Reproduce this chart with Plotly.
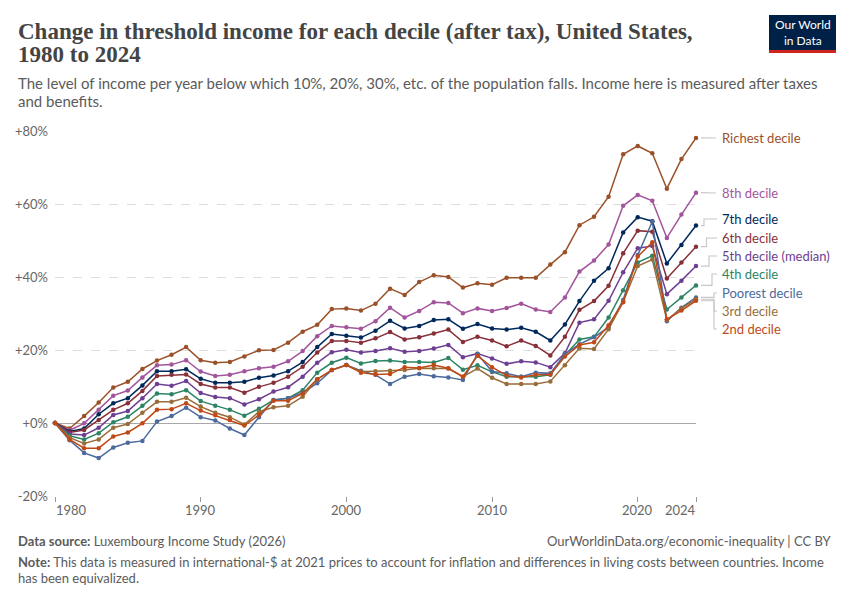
import plotly.graph_objects as go

years = list(range(1980, 2025))

richest = [0, -1.5, 1.9, 5.6, 9.7, 11.3, 14.8, 17.1, 18.7, 20.8,
           17.2, 16.5, 16.7, 18.2, 19.9, 20.0, 22.0, 25.0, 26.9, 31.2,
           31.4, 30.8, 32.7, 36.8, 35.1, 38.6, 40.5, 40.0, 37.1, 38.3,
           37.9, 39.8, 39.8, 39.8, 43.4, 46.8, 54.2, 56.5, 62.0, 73.6,
           75.9, 73.9, 64.2, 72.3, 78.1]
d8 = [0, -2.0, -0.1, 3.6, 7.5, 8.9, 12.5, 15.8, 16.0, 17.2,
      14.1, 12.9, 13.2, 14.2, 15.0, 15.4, 16.9, 19.7, 23.8, 26.6,
      26.2, 25.8, 27.9, 31.6, 28.9, 30.7, 33.1, 32.9, 30.1, 31.4,
      30.7, 31.5, 32.7, 31.1, 30.4, 34.4, 41.5, 44.5, 48.9, 59.5,
      62.5, 60.9, 50.7, 57.1, 63.1]
d7 = [0, -2.3, -1.5, 2.4, 5.4, 6.8, 10.3, 14.2, 14.2, 14.7,
      12.1, 11.0, 11.0, 11.3, 12.4, 13.0, 14.2, 16.7, 20.8, 24.4,
      23.9, 23.4, 25.3, 28.0, 25.9, 26.6, 28.2, 28.4, 25.8, 27.1,
      25.9, 25.6, 26.1, 25.0, 22.6, 27.0, 33.4, 39.0, 42.4, 52.2,
      56.4, 55.3, 43.7, 48.8, 54.1]
d6 = [0, -2.6, -1.9, 0.8, 3.6, 5.4, 8.8, 12.9, 13.2, 13.3,
      10.7, 9.7, 9.7, 8.3, 9.9, 11.0, 12.7, 15.4, 19.3, 22.5,
      22.5, 22.0, 23.2, 24.9, 22.9, 23.5, 24.5, 25.6, 22.2, 23.6,
      22.6, 21.0, 22.6, 21.1, 18.5, 23.6, 31.0, 33.4, 37.6, 46.5,
      52.7, 52.4, 39.6, 44.0, 48.3]
d5 = [0, -3.0, -3.3, -1.3, 2.2, 3.3, 6.8, 10.7, 10.2, 11.5,
      8.2, 7.1, 6.8, 5.1, 6.5, 8.6, 9.8, 12.7, 16.5, 19.4,
      20.1, 19.3, 19.7, 20.5, 19.5, 19.7, 20.4, 21.4, 18.0, 19.0,
      17.7, 16.2, 16.9, 16.6, 15.3, 19.1, 27.5, 28.4, 33.5, 41.3,
      47.9, 48.5, 35.3, 39.0, 43.0]
d4 = [0, -3.5, -4.5, -2.8, 0.2, 1.7, 4.7, 8.1, 7.9, 9.0,
      6.0, 4.7, 3.6, 2.0, 3.9, 6.3, 6.8, 9.0, 13.8, 16.5,
      17.9, 16.3, 17.0, 17.1, 16.7, 16.7, 16.6, 17.8, 14.6, 15.8,
      14.0, 12.7, 12.7, 12.7, 13.2, 18.6, 22.9, 23.6, 28.9, 36.4,
      44.0, 45.8, 31.1, 34.4, 37.7]
poorest = [0, -4.7, -8.2, -9.6, -6.7, -5.4, -4.9, 0.4, 1.9, 4.2,
           1.6, 0.7, -1.5, -3.3, 1.6, 6.3, 6.8, 8.3, 10.9, 14.5,
           15.9, 14.3, 13.2, 10.7, 12.7, 13.4, 12.8, 12.5, 11.8, 18.9,
           14.1, 13.6, 12.7, 13.8, 13.6, 18.9, 21.6, 23.5, 26.2, 33.7,
           46.0, 55.2, 27.9, 31.6, 34.4]
d3 = [0, -4.0, -5.6, -4.5, -1.3, -0.3, 2.8, 5.8, 5.8, 6.9,
      4.5, 2.8, 1.6, -0.4, 3.1, 4.3, 4.7, 7.2, 12.0, 14.5,
      15.9, 14.1, 14.2, 14.3, 14.5, 15.0, 15.0, 14.9, 12.7, 14.9,
      12.4, 10.7, 10.7, 10.7, 11.4, 15.8, 20.5, 20.3, 25.7, 33.2,
      43.0, 44.8, 28.2, 31.4, 33.9]
d2 = [0, -4.5, -6.9, -6.9, -3.7, -2.6, -0.1, 3.6, 3.8, 5.4,
      3.4, 2.1, 0.8, -0.7, 2.2, 6.1, 6.1, 8.1, 12.0, 14.5,
      15.9, 13.8, 13.3, 13.4, 15.3, 15.1, 15.9, 15.0, 12.7, 18.4,
      15.3, 13.0, 12.5, 13.2, 13.3, 18.2, 21.4, 22.1, 26.8, 33.1,
      45.6, 49.5, 28.4, 30.8, 33.5]

names = ["Richest decile", "8th decile", "7th decile", "6th decile",
         "5th decile (median)", "4th decile", "Poorest decile", "3rd decile", "2nd decile"]
series = [richest, d8, d7, d6, d5, d4, poorest, d3, d2]
colors = ["#9A5129", "#A2559C", "#00295B", "#883039", "#6D3E91",
          "#2C8465", "#4C6A9C", "#996D39", "#C04A17"]

ytick_vals = [-20, 0, 20, 40, 60, 80]
ytick_text = ["-20%", "+0%", "+20%", "+40%", "+60%", "+80%"]
xtick_vals = [1980, 1990, 2000, 2010, 2020, 2024]

# layout helpers (pixel -> paper)
L, R, T, B = 55, 696, 131, 496
def px(x):
    return (x - L) / (R - L)
def py(y):
    return (B - y) / (B - T)
def pyd(y):  # pixel -> data y
    return 80 - (y - T) / (B - T) * 100

fig = go.Figure()
for name, vals, c in zip(names, series, colors):
    fig.add_trace(go.Scatter(x=years, y=vals, mode="lines+markers", name=name,
                             line=dict(color=c, width=1.5),
                             marker=dict(color=c, size=4.5),
                             cliponaxis=False, showlegend=False))

FONT = "Lato"
ann = []
shapes = []

# right-side labels and connectors
label_py = [138, 193, 219, 238, 256, 274, 293, 311, 329]
step_px = [None, None, 704, 706.5, 709, 712, 714, 714, 714]
for name, vals, c, lp, sp in zip(names, series, colors, label_py, step_px):
    ann.append(dict(x=px(720), y=py(lp), xref="paper", yref="paper", text=name,
                    showarrow=False, xanchor="left", yanchor="middle",
                    font=dict(family=FONT, size=13, color=c)))
    end = vals[-1]
    ly = pyd(lp)
    if sp is None:
        path = f"M {px(701)},{end} L {px(716)},{ly}"
    else:
        path = (f"M {px(701)},{end} L {px(sp)},{end} L {px(sp)},{ly} L {px(717)},{ly}")
    shapes.append(dict(type="path", path=path, xref="paper", yref="y",
                       line=dict(color="#c8c8c8", width=1.2)))

# x tick labels
for v in xtick_vals:
    anchor = "left" if v == 1980 else ("right" if v == 2024 else "center")
    xoff = -1 if v == 1980 else (2 if v == 2024 else 0)
    ann.append(dict(x=v, y=py(510), xref="x", yref="paper", text=str(v),
                    showarrow=False, xanchor=anchor, yanchor="middle", xshift=xoff,
                    font=dict(family=FONT, size=13, color="#666666")))

# title & subtitle
TITLE_FONT = "Liberation Serif"
ann.append(dict(x=px(16), y=py(31), xref="paper", yref="paper",
                text="<b>Change in threshold income for each decile (after tax), United States,</b>",
                showarrow=False, xanchor="left", yanchor="middle",
                font=dict(family=TITLE_FONT, size=23, color="#444444")))
ann.append(dict(x=px(16), y=py(55), xref="paper", yref="paper", text="<b>1980 to 2024</b>",
                showarrow=False, xanchor="left", yanchor="middle",
                font=dict(family=TITLE_FONT, size=23, color="#444444")))
ann.append(dict(x=px(16), y=py(83), xref="paper", yref="paper",
                text="The level of income per year below which 10%, 20%, 30%, etc. of the population falls. Income here is measured after taxes",
                showarrow=False, xanchor="left", yanchor="middle",
                font=dict(family=FONT, size=15, color="#5b5b5b")))
ann.append(dict(x=px(16), y=py(101), xref="paper", yref="paper", text="and benefits.",
                showarrow=False, xanchor="left", yanchor="middle",
                font=dict(family=FONT, size=15, color="#5b5b5b")))

# footer
ann.append(dict(x=px(16), y=py(541), xref="paper", yref="paper",
                text="<b>Data source:</b> Luxembourg Income Study (2026)",
                showarrow=False, xanchor="left", yanchor="middle",
                font=dict(family=FONT, size=13, color="#5b5b5b")))
ann.append(dict(x=px(834), y=py(541), xref="paper", yref="paper",
                text="OurWorldinData.org/economic-inequality | CC BY",
                showarrow=False, xanchor="right", yanchor="middle",
                font=dict(family=FONT, size=13, color="#5b5b5b")))
ann.append(dict(x=px(16), y=py(562), xref="paper", yref="paper",
                text="<b>Note:</b> This data is measured in international-$ at 2021 prices to account for inflation and differences in living costs between countries. Income",
                showarrow=False, xanchor="left", yanchor="middle",
                font=dict(family=FONT, size=13, color="#5b5b5b")))
ann.append(dict(x=px(16), y=py(578), xref="paper", yref="paper",
                text="has been equivalized.",
                showarrow=False, xanchor="left", yanchor="middle",
                font=dict(family=FONT, size=13, color="#5b5b5b")))

# logo
shapes.append(dict(type="rect", xref="paper", yref="paper",
                   x0=px(769), x1=px(836), y0=py(53), y1=py(15),
                   fillcolor="#002147", line=dict(width=0)))
shapes.append(dict(type="rect", xref="paper", yref="paper",
                   x0=px(769), x1=px(836), y0=py(53), y1=py(50),
                   fillcolor="#ce261e", line=dict(width=0)))
ann.append(dict(x=px(802.5), y=py(32.5), xref="paper", yref="paper",
                text="Our World<br>in Data", showarrow=False,
                xanchor="center", yanchor="middle",
                font=dict(family=FONT, size=12, color="#ffffff")))

fig.update_layout(
    width=850, height=600,
    margin=dict(l=L, r=850 - R, t=T, b=600 - B, pad=0),
    paper_bgcolor="white", plot_bgcolor="white",
    font=dict(family=FONT),
    annotations=ann, shapes=shapes,
    xaxis=dict(range=[1980, 2024], tickvals=xtick_vals, showticklabels=False,
               ticks="outside", ticklen=5, tickcolor="#999999",
               showgrid=False, zeroline=False, showline=False, fixedrange=True),
    yaxis=dict(range=[-20, 80], tickvals=ytick_vals, ticktext=ytick_text,
               showgrid=True, gridcolor="#dddddd", griddash="dash", gridwidth=1,
               zeroline=True, zerolinecolor="#a8a8a8", zerolinewidth=1,
               showline=False, ticks="", ticklabelstandoff=6,
               tickfont=dict(family=FONT, size=13, color="#666666")),
)

fig.write_html("out.html")
